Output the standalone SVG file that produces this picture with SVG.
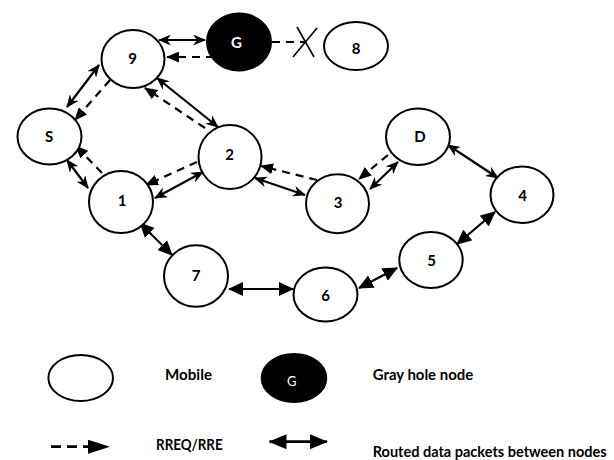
<svg xmlns="http://www.w3.org/2000/svg" width="614" height="460" viewBox="0 0 614 460">
  <style>
    .node { fill: #fff; stroke: #000; stroke-width: 2; }
    .gray { fill: #000; stroke: #000; stroke-width: 2; }
    .lbl { font-family: Lato, "Liberation Sans", sans-serif; font-weight: bold; font-size: 15px; text-anchor: middle; fill: #000; }
    .lbl.inv { fill: #fff; }
    .leg { font-family: Lato, "Liberation Sans", sans-serif; font-weight: bold; font-size: 15px; fill: #000; }
    .data { stroke: #000; stroke-width: 2.2; fill: none; marker-start: url(#stealth); marker-end: url(#stealth); }
    .bulk { stroke: #000; stroke-width: 2.2; fill: none; marker-start: url(#tri); marker-end: url(#tri); }
    .rreq { stroke: #000; stroke-width: 2.2; fill: none; stroke-dasharray: 8 6; marker-end: url(#dtri); }
    .cut { stroke: #000; stroke-width: 1.6; fill: none; }
  </style>
  <defs>
    <!-- notched head for data links -->
    <marker id="stealth" markerUnits="userSpaceOnUse" viewBox="0 0 13 11" markerWidth="13" markerHeight="11" refX="12" refY="5.5" orient="auto-start-reverse">
      <path d="M0,0 L13,5.5 L0,11 L4,5.5 z" fill="#000"/>
    </marker>
    <!-- solid triangle head for data links -->
    <marker id="tri" markerUnits="userSpaceOnUse" viewBox="0 0 15 14" markerWidth="15" markerHeight="14" refX="14" refY="7" orient="auto-start-reverse">
      <path d="M0,0 L15,7 L0,14 z" fill="#000"/>
    </marker>
    <!-- head for route request arrows -->
    <marker id="dtri" markerUnits="userSpaceOnUse" viewBox="0 0 13 11" markerWidth="13" markerHeight="11" refX="12" refY="5.5" orient="auto">
      <path d="M0,0 L13,5.5 L0,11 z" fill="#000"/>
    </marker>
    <!-- legend heads -->
    <marker id="lhead" markerUnits="userSpaceOnUse" viewBox="0 0 22 14" markerWidth="22" markerHeight="14" refX="21" refY="7" orient="auto-start-reverse">
      <path d="M0,0 L22,7 L0,14 z" fill="#000"/>
    </marker>
    <marker id="lhead2" markerUnits="userSpaceOnUse" viewBox="0 0 18 15" markerWidth="18" markerHeight="15" refX="17" refY="7.5" orient="auto-start-reverse">
      <path d="M0,0 L18,7.5 L0,15 z" fill="#000"/>
    </marker>
  </defs>

  <g id="connectors">
    <!-- data links -->
    <line class="data" x1="159" y1="40" x2="205" y2="40"/>
    <line class="data" x1="99" y1="65" x2="67" y2="107"/>
    <line class="data" x1="157" y1="78" x2="218" y2="127"/>
    <line class="data" x1="67" y1="160" x2="88" y2="188"/>
    <line class="data" x1="155" y1="198" x2="203" y2="172"/>
    <line class="data" x1="255" y1="178" x2="305" y2="195"/>
    <line class="data" x1="370" y1="189" x2="398" y2="162"/>
    <line class="data" x1="448" y1="145" x2="498" y2="178"/>
    <line class="bulk" x1="140" y1="223" x2="172" y2="255"/>
    <line class="bulk" x1="229" y1="289" x2="293" y2="289"/>
    <line class="bulk" x1="359" y1="288" x2="397" y2="268"/>
    <line class="bulk" x1="495" y1="212" x2="457" y2="244"/>
    <!-- route requests / replies -->
    <line class="rreq" x1="214" y1="57" x2="167" y2="57"/>
    <line class="rreq" x1="110" y1="80" x2="75" y2="120"/>
    <line class="rreq" x1="205" y1="128" x2="145" y2="88"/>
    <line class="rreq" x1="102" y1="173" x2="76" y2="146"/>
    <line class="rreq" x1="197" y1="162" x2="146" y2="185"/>
    <line class="rreq" x1="317" y1="180" x2="261" y2="166"/>
    <line class="rreq" x1="388" y1="155" x2="359" y2="179"/>
    <!-- blocked link to node 8 -->
    <line class="rreq" style="marker-end:none" x1="272" y1="42" x2="306" y2="42"/>
    <line class="cut" x1="297" y1="27" x2="314" y2="57"/>
    <line class="cut" x1="317" y1="28" x2="293" y2="57"/>
  </g>

  <g id="node-9"><ellipse class="node" cx="133" cy="59" rx="31.5" ry="29"/><text class="lbl" x="132.5" y="63.8">9</text></g>
  <g id="node-G"><ellipse class="gray" cx="239" cy="42" rx="32" ry="28.5"/><text class="lbl inv" x="236.5" y="48.4">G</text></g>
  <g id="node-S"><ellipse class="node" cx="49.5" cy="136.5" rx="32" ry="28"/><text class="lbl" x="49" y="141.7">S</text></g>
  <g id="node-2"><ellipse class="node" cx="230" cy="157" rx="31.5" ry="32"/><text class="lbl" x="229.7" y="160">2</text></g>
  <g id="node-1"><ellipse class="node" cx="121" cy="202" rx="32" ry="31"/><text class="lbl" x="122" y="205.7">1</text></g>
  <g id="node-3"><ellipse class="node" cx="337.5" cy="203.7" rx="31.5" ry="29.5"/><text class="lbl" x="338" y="208">3</text></g>
  <g id="node-D"><ellipse class="node" cx="418" cy="136.7" rx="32" ry="28.3"/><text class="lbl" x="420" y="142">D</text></g>
  <g id="node-4"><ellipse class="node" cx="522" cy="194.7" rx="31.5" ry="28.3"/><text class="lbl" x="522.5" y="200.5">4</text></g>
  <g id="node-5"><ellipse class="node" cx="431" cy="260" rx="31.7" ry="28"/><text class="lbl" x="431.5" y="265.5">5</text></g>
  <g id="node-7"><ellipse class="node" cx="196" cy="276" rx="32" ry="30.7"/><text class="lbl" x="196" y="280.5">7</text></g>
  <g id="node-6"><ellipse class="node" cx="325.5" cy="294.5" rx="32" ry="27"/><text class="lbl" x="325.5" y="301">6</text></g>
  <g id="node-8"><ellipse class="node" cx="356" cy="46" rx="32" ry="24"/><text class="lbl" x="356" y="53.5">8</text></g>

  <g id="legend">
    <ellipse class="node" cx="80.7" cy="378" rx="32.3" ry="23"/>
    <text class="leg" x="165" y="380" textLength="47" lengthAdjust="spacingAndGlyphs">Mobile</text>
    <ellipse class="gray" cx="294" cy="378" rx="32.3" ry="24"/>
    <text x="291.7" y="386" font-family="Lato, 'Liberation Sans', sans-serif" font-size="13" fill="#fff" text-anchor="middle">G</text>
    <text class="leg" x="372.7" y="380" textLength="100.5" lengthAdjust="spacingAndGlyphs">Gray hole node</text>
    <line x1="51" y1="446.7" x2="109" y2="446.7" stroke="#000" stroke-width="2.8" stroke-dasharray="10 6 10 6 5 40" marker-end="url(#lhead)"/>
    <text class="leg" x="156" y="450" textLength="66.7" lengthAdjust="spacingAndGlyphs">RREQ/RRE</text>
    <line x1="269.5" y1="441.7" x2="327" y2="441.7" stroke="#000" stroke-width="2.8" marker-start="url(#lhead2)" marker-end="url(#lhead2)"/>
    <text class="leg" x="372.7" y="456.5" textLength="234" lengthAdjust="spacingAndGlyphs">Routed data packets between nodes</text>
  </g>
</svg>
